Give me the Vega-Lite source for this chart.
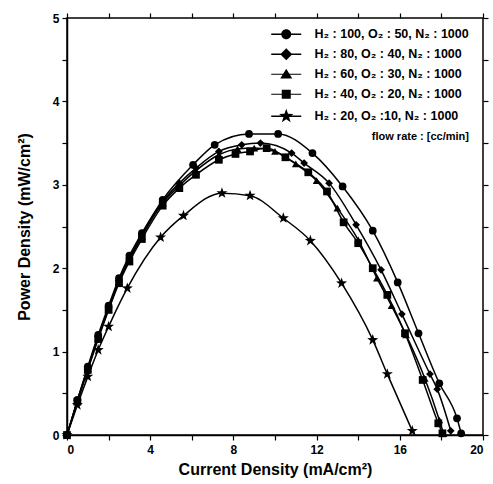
{
  "$schema": "https://vega.github.io/schema/vega-lite/v6.json",
  "width": 416,
  "height": 417,
  "autosize": {"type": "none"},
  "padding": {"left": 67, "top": 18, "right": 10, "bottom": 49},
  "background": "white",
  "config": {
    "view": {"stroke": "black", "strokeWidth": 1.5},
    "font": "Liberation Sans",
    "axis": {
      "domainColor": "black", "domainWidth": 1.5, "tickColor": "black", "tickWidth": 1.2, "ticks": true, "tickSize": 5,
      "grid": false, "labelFont": "Liberation Sans", "labelFontWeight": "bold", "labelFontSize": 12, "labelColor": "black",
      "titleFont": "Liberation Sans", "titleFontWeight": "bold", "titleFontSize": 16, "titleColor": "black"
    }
  },
  "datasets": {
    "curves": [
      {"series": "H₂ : 100, O₂ : 50, N₂ : 1000", "x": 0, "y": 0},
      {"series": "H₂ : 100, O₂ : 50, N₂ : 1000", "x": 0.5, "y": 0.42},
      {"series": "H₂ : 100, O₂ : 50, N₂ : 1000", "x": 1, "y": 0.82},
      {"series": "H₂ : 100, O₂ : 50, N₂ : 1000", "x": 1.5, "y": 1.2},
      {"series": "H₂ : 100, O₂ : 50, N₂ : 1000", "x": 2, "y": 1.55},
      {"series": "H₂ : 100, O₂ : 50, N₂ : 1000", "x": 2.5, "y": 1.88},
      {"series": "H₂ : 100, O₂ : 50, N₂ : 1000", "x": 3, "y": 2.15},
      {"series": "H₂ : 100, O₂ : 50, N₂ : 1000", "x": 3.6, "y": 2.42},
      {"series": "H₂ : 100, O₂ : 50, N₂ : 1000", "x": 4.6, "y": 2.82},
      {"series": "H₂ : 100, O₂ : 50, N₂ : 1000", "x": 6.06, "y": 3.24},
      {"series": "H₂ : 100, O₂ : 50, N₂ : 1000", "x": 7.1, "y": 3.48},
      {"series": "H₂ : 100, O₂ : 50, N₂ : 1000", "x": 8.75, "y": 3.61},
      {"series": "H₂ : 100, O₂ : 50, N₂ : 1000", "x": 10.15, "y": 3.61},
      {"series": "H₂ : 100, O₂ : 50, N₂ : 1000", "x": 11.8, "y": 3.38},
      {"series": "H₂ : 100, O₂ : 50, N₂ : 1000", "x": 13.25, "y": 2.98},
      {"series": "H₂ : 100, O₂ : 50, N₂ : 1000", "x": 14.7, "y": 2.45},
      {"series": "H₂ : 100, O₂ : 50, N₂ : 1000", "x": 15.9, "y": 1.83},
      {"series": "H₂ : 100, O₂ : 50, N₂ : 1000", "x": 16.9, "y": 1.22},
      {"series": "H₂ : 100, O₂ : 50, N₂ : 1000", "x": 17.9, "y": 0.62},
      {"series": "H₂ : 100, O₂ : 50, N₂ : 1000", "x": 18.75, "y": 0.2},
      {"series": "H₂ : 100, O₂ : 50, N₂ : 1000", "x": 18.95, "y": 0.02},

      {"series": "H₂ :  80, O₂ : 40, N₂ : 1000", "x": 0, "y": 0},
      {"series": "H₂ :  80, O₂ : 40, N₂ : 1000", "x": 0.5, "y": 0.41},
      {"series": "H₂ :  80, O₂ : 40, N₂ : 1000", "x": 1, "y": 0.8},
      {"series": "H₂ :  80, O₂ : 40, N₂ : 1000", "x": 1.5, "y": 1.18},
      {"series": "H₂ :  80, O₂ : 40, N₂ : 1000", "x": 2, "y": 1.52},
      {"series": "H₂ :  80, O₂ : 40, N₂ : 1000", "x": 2.5, "y": 1.85},
      {"series": "H₂ :  80, O₂ : 40, N₂ : 1000", "x": 3, "y": 2.12},
      {"series": "H₂ :  80, O₂ : 40, N₂ : 1000", "x": 3.6, "y": 2.4},
      {"series": "H₂ :  80, O₂ : 40, N₂ : 1000", "x": 4.6, "y": 2.8},
      {"series": "H₂ :  80, O₂ : 40, N₂ : 1000", "x": 5.4, "y": 3.02},
      {"series": "H₂ :  80, O₂ : 40, N₂ : 1000", "x": 6.2, "y": 3.2},
      {"series": "H₂ :  80, O₂ : 40, N₂ : 1000", "x": 7.3, "y": 3.4},
      {"series": "H₂ :  80, O₂ : 40, N₂ : 1000", "x": 8.4, "y": 3.48},
      {"series": "H₂ :  80, O₂ : 40, N₂ : 1000", "x": 9.3, "y": 3.5},
      {"series": "H₂ :  80, O₂ : 40, N₂ : 1000", "x": 10.8, "y": 3.38},
      {"series": "H₂ :  80, O₂ : 40, N₂ : 1000", "x": 11.4, "y": 3.26},
      {"series": "H₂ :  80, O₂ : 40, N₂ : 1000", "x": 12.6, "y": 3.02},
      {"series": "H₂ :  80, O₂ : 40, N₂ : 1000", "x": 13.9, "y": 2.52},
      {"series": "H₂ :  80, O₂ : 40, N₂ : 1000", "x": 15.1, "y": 1.98},
      {"series": "H₂ :  80, O₂ : 40, N₂ : 1000", "x": 16.1, "y": 1.45},
      {"series": "H₂ :  80, O₂ : 40, N₂ : 1000", "x": 17.45, "y": 0.73},
      {"series": "H₂ :  80, O₂ : 40, N₂ : 1000", "x": 17.8, "y": 0.55},
      {"series": "H₂ :  80, O₂ : 40, N₂ : 1000", "x": 18.45, "y": 0.05},

      {"series": "H₂ :  60, O₂ : 30, N₂ : 1000", "x": 0, "y": 0},
      {"series": "H₂ :  60, O₂ : 30, N₂ : 1000", "x": 0.5, "y": 0.41},
      {"series": "H₂ :  60, O₂ : 30, N₂ : 1000", "x": 1, "y": 0.8},
      {"series": "H₂ :  60, O₂ : 30, N₂ : 1000", "x": 1.5, "y": 1.17},
      {"series": "H₂ :  60, O₂ : 30, N₂ : 1000", "x": 2, "y": 1.51},
      {"series": "H₂ :  60, O₂ : 30, N₂ : 1000", "x": 2.5, "y": 1.84},
      {"series": "H₂ :  60, O₂ : 30, N₂ : 1000", "x": 3, "y": 2.1},
      {"series": "H₂ :  60, O₂ : 30, N₂ : 1000", "x": 3.6, "y": 2.38},
      {"series": "H₂ :  60, O₂ : 30, N₂ : 1000", "x": 4.6, "y": 2.78},
      {"series": "H₂ :  60, O₂ : 30, N₂ : 1000", "x": 5.4, "y": 2.99},
      {"series": "H₂ :  60, O₂ : 30, N₂ : 1000", "x": 6.2, "y": 3.17},
      {"series": "H₂ :  60, O₂ : 30, N₂ : 1000", "x": 7.3, "y": 3.36},
      {"series": "H₂ :  60, O₂ : 30, N₂ : 1000", "x": 8.2, "y": 3.43},
      {"series": "H₂ :  60, O₂ : 30, N₂ : 1000", "x": 9.0, "y": 3.44},
      {"series": "H₂ :  60, O₂ : 30, N₂ : 1000", "x": 10.0, "y": 3.4},
      {"series": "H₂ :  60, O₂ : 30, N₂ : 1000", "x": 11.0, "y": 3.25},
      {"series": "H₂ :  60, O₂ : 30, N₂ : 1000", "x": 12.0, "y": 3.05},
      {"series": "H₂ :  60, O₂ : 30, N₂ : 1000", "x": 13.0, "y": 2.72},
      {"series": "H₂ :  60, O₂ : 30, N₂ : 1000", "x": 14.0, "y": 2.34},
      {"series": "H₂ :  60, O₂ : 30, N₂ : 1000", "x": 14.9, "y": 1.88},
      {"series": "H₂ :  60, O₂ : 30, N₂ : 1000", "x": 15.6, "y": 1.55},
      {"series": "H₂ :  60, O₂ : 30, N₂ : 1000", "x": 16.3, "y": 1.2},
      {"series": "H₂ :  60, O₂ : 30, N₂ : 1000", "x": 17.2, "y": 0.68},
      {"series": "H₂ :  60, O₂ : 30, N₂ : 1000", "x": 17.9, "y": 0.18},
      {"series": "H₂ :  60, O₂ : 30, N₂ : 1000", "x": 18.1, "y": 0.02},

      {"series": "H₂ :  40, O₂ : 20, N₂ : 1000", "x": 0, "y": 0},
      {"series": "H₂ :  40, O₂ : 20, N₂ : 1000", "x": 0.5, "y": 0.4},
      {"series": "H₂ :  40, O₂ : 20, N₂ : 1000", "x": 1, "y": 0.78},
      {"series": "H₂ :  40, O₂ : 20, N₂ : 1000", "x": 1.5, "y": 1.15},
      {"series": "H₂ :  40, O₂ : 20, N₂ : 1000", "x": 2, "y": 1.5},
      {"series": "H₂ :  40, O₂ : 20, N₂ : 1000", "x": 2.5, "y": 1.82},
      {"series": "H₂ :  40, O₂ : 20, N₂ : 1000", "x": 3, "y": 2.08},
      {"series": "H₂ :  40, O₂ : 20, N₂ : 1000", "x": 3.6, "y": 2.35},
      {"series": "H₂ :  40, O₂ : 20, N₂ : 1000", "x": 4.6, "y": 2.75},
      {"series": "H₂ :  40, O₂ : 20, N₂ : 1000", "x": 5.4, "y": 2.96},
      {"series": "H₂ :  40, O₂ : 20, N₂ : 1000", "x": 6.2, "y": 3.12},
      {"series": "H₂ :  40, O₂ : 20, N₂ : 1000", "x": 7.3, "y": 3.3},
      {"series": "H₂ :  40, O₂ : 20, N₂ : 1000", "x": 8.1, "y": 3.37},
      {"series": "H₂ :  40, O₂ : 20, N₂ : 1000", "x": 8.8, "y": 3.4},
      {"series": "H₂ :  40, O₂ : 20, N₂ : 1000", "x": 9.6, "y": 3.44},
      {"series": "H₂ :  40, O₂ : 20, N₂ : 1000", "x": 10.5, "y": 3.33},
      {"series": "H₂ :  40, O₂ : 20, N₂ : 1000", "x": 11.6, "y": 3.15},
      {"series": "H₂ :  40, O₂ : 20, N₂ : 1000", "x": 12.5, "y": 2.92},
      {"series": "H₂ :  40, O₂ : 20, N₂ : 1000", "x": 13.3, "y": 2.55},
      {"series": "H₂ :  40, O₂ : 20, N₂ : 1000", "x": 14.0, "y": 2.3},
      {"series": "H₂ :  40, O₂ : 20, N₂ : 1000", "x": 14.7, "y": 2.0},
      {"series": "H₂ :  40, O₂ : 20, N₂ : 1000", "x": 15.4, "y": 1.68},
      {"series": "H₂ :  40, O₂ : 20, N₂ : 1000", "x": 16.25, "y": 1.22},
      {"series": "H₂ :  40, O₂ : 20, N₂ : 1000", "x": 17.1, "y": 0.66},
      {"series": "H₂ :  40, O₂ : 20, N₂ : 1000", "x": 17.85, "y": 0.14},
      {"series": "H₂ :  40, O₂ : 20, N₂ : 1000", "x": 18.05, "y": 0.02},

      {"series": "H₂ :  20, O₂ :10, N₂ : 1000", "x": 0, "y": 0},
      {"series": "H₂ :  20, O₂ :10, N₂ : 1000", "x": 0.5, "y": 0.36},
      {"series": "H₂ :  20, O₂ :10, N₂ : 1000", "x": 1.0, "y": 0.7},
      {"series": "H₂ :  20, O₂ :10, N₂ : 1000", "x": 1.5, "y": 1.02},
      {"series": "H₂ :  20, O₂ :10, N₂ : 1000", "x": 2.0, "y": 1.3},
      {"series": "H₂ :  20, O₂ :10, N₂ : 1000", "x": 2.9, "y": 1.76},
      {"series": "H₂ :  20, O₂ :10, N₂ : 1000", "x": 4.5, "y": 2.37},
      {"series": "H₂ :  20, O₂ :10, N₂ : 1000", "x": 5.6, "y": 2.63},
      {"series": "H₂ :  20, O₂ :10, N₂ : 1000", "x": 7.45, "y": 2.9},
      {"series": "H₂ :  20, O₂ :10, N₂ : 1000", "x": 8.8, "y": 2.87},
      {"series": "H₂ :  20, O₂ :10, N₂ : 1000", "x": 10.4, "y": 2.6},
      {"series": "H₂ :  20, O₂ :10, N₂ : 1000", "x": 11.7, "y": 2.33},
      {"series": "H₂ :  20, O₂ :10, N₂ : 1000", "x": 13.2, "y": 1.82},
      {"series": "H₂ :  20, O₂ :10, N₂ : 1000", "x": 14.7, "y": 1.14},
      {"series": "H₂ :  20, O₂ :10, N₂ : 1000", "x": 15.4, "y": 0.73},
      {"series": "H₂ :  20, O₂ :10, N₂ : 1000", "x": 16.6, "y": 0.05}
    ]
  },
  "data": {"name": "curves"},
  "resolve": {"scale": {"shape": "independent"}, "axis": {"x": "independent", "y": "independent"}},
  "layer": [
    {
      "mark": {"type": "line", "color": "black", "strokeWidth": 1.5, "interpolate": "monotone"},
      "encoding": {
        "x": {"field": "x", "type": "quantitative", "title": "Current Density (mA/cm²)",
          "scale": {"domain": [0, 20], "nice": false},
          "axis": {"values": [0, 2, 4, 6, 8, 10, 12, 14, 16, 18, 20], "labelExpr": "datum.value % 4 === 0 ? format(datum.value, 'd') : ''", "labelPadding": 4, "titlePadding": 6}},
        "y": {"field": "y", "type": "quantitative", "title": "Power Density (mW/cm²)",
          "scale": {"domain": [0, 5], "nice": false},
          "axis": {"values": [0, 0.5, 1, 1.5, 2, 2.5, 3, 3.5, 4, 4.5, 5], "labelExpr": "datum.value % 1 === 0 ? format(datum.value, 'd') : ''", "labelPadding": 3, "titlePadding": 20}},
        "detail": {"field": "series"}
      }
    },
    {
      "mark": {"type": "point", "filled": true, "color": "black", "opacity": 1},
      "encoding": {
        "x": {"field": "x", "type": "quantitative", "axis": null},
        "y": {"field": "y", "type": "quantitative", "axis": null},
        "shape": {
          "field": "series", "type": "nominal",
          "scale": {
            "domain": ["H₂ : 100, O₂ : 50, N₂ : 1000", "H₂ :  80, O₂ : 40, N₂ : 1000", "H₂ :  60, O₂ : 30, N₂ : 1000", "H₂ :  40, O₂ : 20, N₂ : 1000", "H₂ :  20, O₂ :10, N₂ : 1000"],
            "range": ["circle", "diamond", "triangle-up", "square", "M0,-1.5L0.353,-0.485L1.427,-0.464L0.571,0.186L0.882,1.214L0,0.6L-0.882,1.214L-0.571,0.186L-1.427,-0.464L-0.353,-0.485Z"]
          },
          "legend": null
        },
        "size": {"value": 60}
      }
    },
    {
      "transform": [{"filter": "datum.x < -1"}],
      "mark": {"type": "point", "filled": true, "color": "black", "opacity": 1},
      "encoding": {
        "x": {"field": "x", "type": "quantitative", "scale": {"domain": [0, 20], "nice": false},
          "axis": {"orient": "top", "values": [0, 2, 4, 6, 8, 10, 12, 14, 16, 18, 20], "labels": false, "title": null, "domain": false}},
        "y": {"field": "y", "type": "quantitative", "scale": {"domain": [0, 5], "nice": false},
          "axis": {"orient": "right", "values": [0, 0.5, 1, 1.5, 2, 2.5, 3, 3.5, 4, 4.5, 5], "labels": false, "title": null, "domain": false}},
        "shape": {
          "field": "series", "type": "nominal",
          "scale": {
            "domain": ["H₂ : 100, O₂ : 50, N₂ : 1000", "H₂ :  80, O₂ : 40, N₂ : 1000", "H₂ :  60, O₂ : 30, N₂ : 1000", "H₂ :  40, O₂ : 20, N₂ : 1000", "H₂ :  20, O₂ :10, N₂ : 1000"],
            "range": [
              "M-3,-0.15H3V0.15H-3Z M1,0A1,1 0 1,1 -1,0A1,1 0 1,1 1,0Z",
              "M-3,-0.15H3V0.15H-3Z M0,-1.2L1.2,0L0,1.2L-1.2,0Z",
              "M-3,-0.12H3V0.12H-3Z M0,-1.1L1.2,0.85L-1.2,0.85Z",
              "M-3,-0.12H3V0.12H-3Z M-0.9,-0.9H0.9V0.9H-0.9Z",
              "M-3,-0.15H3V0.15H-3Z M0,-1.5L0.353,-0.485L1.427,-0.464L0.571,0.186L0.882,1.214L0,0.6L-0.882,1.214L-0.571,0.186L-1.427,-0.464L-0.353,-0.485Z"
            ]
          },
          "legend": {
            "orient": "none",
            "legendX": 198,
            "legendY": 10,
            "title": "flow rate : [cc/min]",
            "titleOrient": "bottom",
            "titleAnchor": "end",
            "titleFont": "Liberation Sans",
            "titleFontSize": 11,
            "titleFontWeight": "bold",
            "titleColor": "black",
            "titlePadding": 8,
            "labelFont": "Liberation Sans",
            "labelFontSize": 12.5,
            "labelFontWeight": "bold",
            "labelColor": "black",
            "labelLimit": 300,
            "labelOffset": 22,
            "symbolSize": 100,
            "symbolFillColor": "black",
            "symbolStrokeColor": "black",
            "symbolStrokeWidth": 0,
            "symbolOffset": 15,
            "rowPadding": 7
          }
        },
        "size": {"value": 100}
      }
    }
  ]
}
